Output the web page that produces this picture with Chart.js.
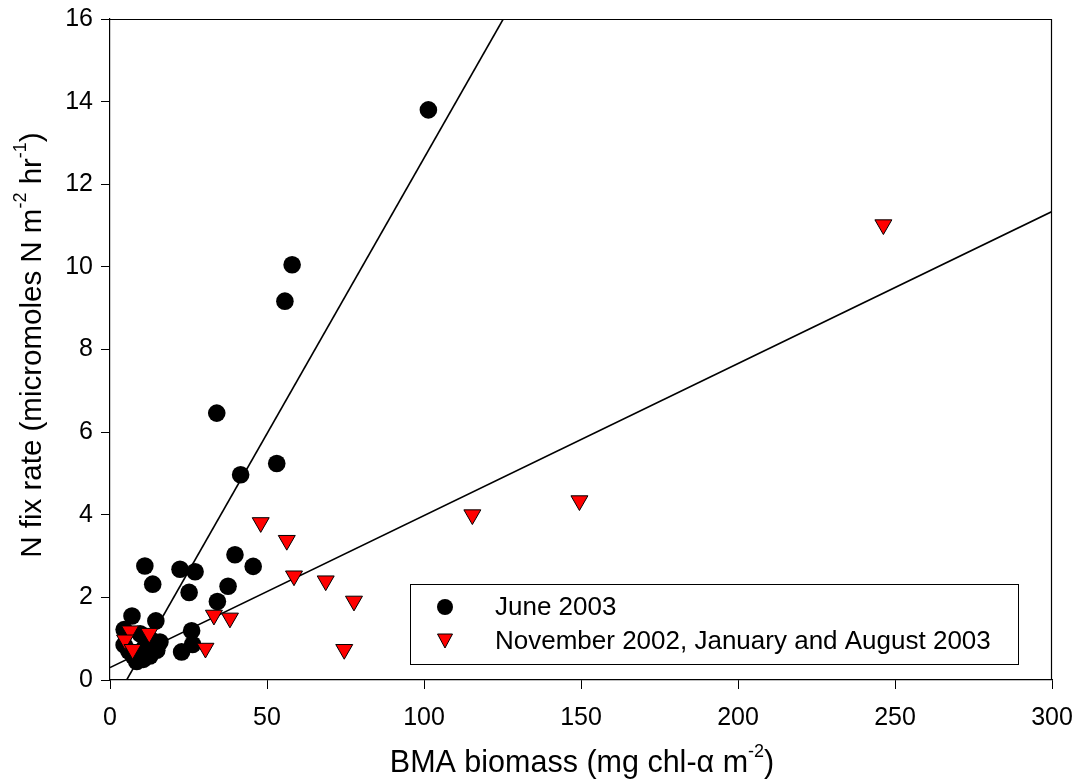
<!DOCTYPE html>
<html>
<head>
<meta charset="utf-8">
<script src="https://cdn.jsdelivr.net/npm/chart.js@4.4.1/dist/chart.umd.min.js"></script>
<style>
  body { margin: 0; background: #fff; }
  #grafico { display: block; }
</style>
</head>
<body>
<canvas id="grafico" width="1081" height="784"></canvas>
<script>
// June 2003 (circles)
var juneX = [101.4, 58.0, 55.7, 34.0, 41.6, 53.1, 39.8, 45.6, 37.6, 34.2, 22.3, 27.1, 25.2, 11.1, 13.6,
             26.0, 26.3, 22.8, 7.0, 14.6, 4.5, 4.5, 9.6, 10.6, 14.9, 7.4, 12.7, 15.9, 11.1, 8.5, 13.5, 6.0];
var juneY = [13.8, 10.05, 9.17, 6.46, 4.97, 5.24, 3.03, 2.75, 2.27, 1.90, 2.68, 2.62, 2.12, 2.76, 2.32,
             1.19, 0.86, 0.68, 1.55, 1.43, 1.22, 0.85, 1.12, 0.50, 0.72, 0.58, 0.58, 0.92, 0.80, 0.45, 0.95, 0.70];

// November 2002, January and August 2003 (triangles)
var otrosX = [246.3, 149.5, 115.4, 48.0, 56.3, 58.6, 68.7, 77.7, 74.6, 33.1, 38.2, 30.4, 6.4, 4.8, 7.2, 12.5];
var otrosY = [11.02, 4.34, 4.00, 3.81, 3.38, 2.52, 2.40, 1.91, 0.74, 1.57, 1.50, 0.77, 1.19, 0.97, 0.74, 1.13];

// regression lines (slope, intercept)
var ajusteJunio = [0.1334, -0.707];
var ajusteOtros = [0.0368, 0.30];

var nombresSeries = ["June 2003", "November 2002, January and August 2003"];
var ticksX = [0, 50, 100, 150, 200, 250, 300];
var ticksY = [0, 2, 4, 6, 8, 10, 12, 14, 16];

var fuente = "'Liberation Sans', Arial, sans-serif";

function puntos(xs, ys) {
    var res = [];
    for (var i = 0; i < xs.length; i++) res.push({x: xs[i], y: ys[i]});
    return res;
}

function lineaAjuste(aj, xmin, xmax) {
    // cortar al rango y 0..16
    var x0 = Math.max(xmin, (0 - aj[1]) / aj[0]);
    var x1 = Math.min(xmax, (16 - aj[1]) / aj[0]);
    return [{x: x0, y: aj[0] * x0 + aj[1]}, {x: x1, y: aj[0] * x1 + aj[1]}];
}

// texto por partes, algunas como superindice
function textoPartes(ctx, partes, size) {
    var total = 0;
    partes.forEach(function (p) {
        ctx.font = (p.sup ? Math.round(size * 0.6) : size) + "px " + fuente;
        p.w = ctx.measureText(p.t).width;
        total += p.w;
    });
    var x = -total / 2;
    partes.forEach(function (p) {
        ctx.font = (p.sup ? Math.round(size * 0.6) : size) + "px " + fuente;
        ctx.fillText(p.t, x, p.sup ? -size * 0.4 : 0);
        x += p.w;
    });
}

var extras = {
    id: 'extras',
    afterDraw: function (chart) {
        var ctx = chart.ctx, a = chart.chartArea;
        ctx.save();
        // marco arriba y derecha
        ctx.strokeStyle = '#000';
        ctx.lineWidth = 1.2;
        ctx.beginPath();
        ctx.moveTo(a.left, a.top + 0.5);
        ctx.lineTo(a.right - 0.5, a.top + 0.5);
        ctx.lineTo(a.right - 0.5, a.bottom);
        ctx.stroke();

        // titulos de ejes
        ctx.fillStyle = '#000';
        ctx.textBaseline = 'middle';
        ctx.textAlign = 'left';
        ctx.save();
        ctx.translate(582, 764);
        textoPartes(ctx, [{t: 'BMA biomass (mg chl-\u03b1 m'}, {t: '-2', sup: true}, {t: ')'}], 30.5);
        ctx.restore();
        ctx.save();
        ctx.translate(33, 345);
        ctx.rotate(-Math.PI / 2);
        textoPartes(ctx, [{t: 'N fix rate (micromoles N m'}, {t: '-2', sup: true}, {t: ' hr'}, {t: '-1', sup: true}, {t: ')'}], 29.5);
        ctx.restore();

        // leyenda
        var lx = 410, ly = 584, lw = 608, lh = 80;
        ctx.lineWidth = 1;
        ctx.strokeStyle = '#000';
        ctx.fillStyle = '#fff';
        ctx.fillRect(lx, ly, lw, lh);
        ctx.strokeRect(lx + 0.5, ly + 0.5, lw, lh);
        ctx.fillStyle = '#000';
        ctx.beginPath();
        ctx.arc(445, 607, 8, 0, Math.PI * 2);
        ctx.fill();
        ctx.beginPath();
        ctx.moveTo(437.5, 634);
        ctx.lineTo(452.5, 634);
        ctx.lineTo(445, 648);
        ctx.closePath();
        ctx.fillStyle = '#ff0000';
        ctx.fill();
        ctx.stroke();
        ctx.fillStyle = '#000';
        ctx.font = "26px " + fuente;
        ctx.textAlign = 'left';
        ctx.fillText(nombresSeries[0], 495, 608);
        ctx.fillText(nombresSeries[1], 495, 642);
        ctx.restore();
    }
};

var ctx = document.getElementById('grafico').getContext('2d');
var chart = new Chart(ctx, {
    type: 'scatter',
    data: {
        datasets: [
            {
                label: nombresSeries[0],
                data: puntos(juneX, juneY),
                pointStyle: 'circle',
                pointRadius: 8.8,
                pointBorderWidth: 0,
                backgroundColor: '#000',
                borderColor: '#000',
                order: 1
            },
            {
                label: nombresSeries[1],
                data: puntos(otrosX, otrosY),
                pointStyle: 'triangle',
                rotation: 180,
                pointRadius: 9.8,
                pointBorderWidth: 1,
                backgroundColor: '#ff0000',
                borderColor: '#000',
                order: 0
            },
            {
                label: 'ajuste junio',
                data: lineaAjuste(ajusteJunio, 0, 300),
                showLine: true,
                borderColor: '#000',
                borderWidth: 1.6,
                pointRadius: 0,
                order: 3
            },
            {
                label: 'ajuste otros',
                data: lineaAjuste(ajusteOtros, 0, 300),
                showLine: true,
                borderColor: '#000',
                borderWidth: 1.6,
                pointRadius: 0,
                order: 3
            }
        ]
    },
    options: {
        responsive: false,
        animation: false,
        layout: { padding: { left: 0, top: 19, right: 29, bottom: 0 } },
        plugins: {
            legend: { display: false },
            tooltip: { enabled: false }
        },
        scales: {
            x: {
                type: 'linear',
                min: 0, max: 300,
                afterFit: function (s) {
                    s.height = 104;
                    s.paddingLeft = 0; s.paddingRight = 0;
                },
                afterBuildTicks: function (s) { s.ticks = ticksX.map(function (v) { return {value: v}; }); },
                border: { display: true, color: '#000', width: 1.2 },
                grid: { drawOnChartArea: false, drawTicks: true, tickLength: 9, color: '#000', lineWidth: 1 },
                ticks: { color: '#000', font: { size: 25, family: fuente }, padding: 14, maxRotation: 0 }
            },
            y: {
                type: 'linear',
                min: 0, max: 16,
                afterFit: function (s) {
                    s.width = 110;
                    s.paddingTop = 0; s.paddingBottom = 0;
                },
                afterBuildTicks: function (s) { s.ticks = ticksY.map(function (v) { return {value: v}; }); },
                border: { display: true, color: '#000', width: 1.2 },
                grid: { drawOnChartArea: false, drawTicks: true, tickLength: 9, color: '#000', lineWidth: 1 },
                ticks: { color: '#000', font: { size: 25, family: fuente }, padding: 8 }
            }
        }
    },
    plugins: [extras]
});
</script>
</body>
</html>
